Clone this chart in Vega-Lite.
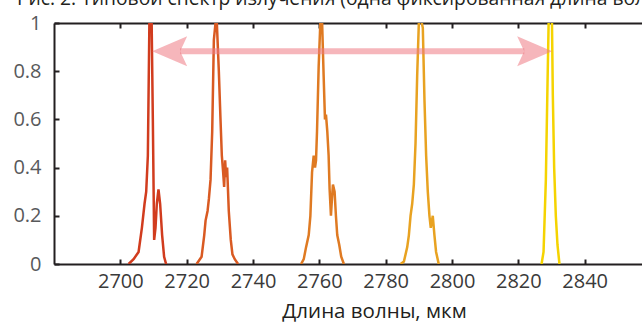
{
  "$schema": "https://vega.github.io/schema/vega-lite/v6.json",
  "width": 597,
  "height": 241,
  "autosize": {"type": "none"},
  "padding": {"left": 54, "top": 23, "right": 0, "bottom": 62},
  "title": {
    "text": "Рис. 2. Типовой спектр излучения (одна фиксированная длина волны)",
    "anchor": "start",
    "dx": 4,
    "offset": -11,
    "baseline": "alphabetic",
    "fontSize": 19.3,
    "font": "Open Sans",
    "fontWeight": "normal",
    "color": "#231f20"
  },
  "config": {
    "view": {"stroke": null},
    "font": "Open Sans",
    "axis": {
      "domainColor": "#231f20",
      "domainWidth": 2,
      "tickColor": "#231f20",
      "tickWidth": 2,
      "tickSize": -5,
      "grid": false,
      "labelFont": "Open Sans",
      "labelFontSize": 20,
      "titleFont": "Open Sans",
      "titleFontSize": 20.5,
      "titleFontWeight": "normal",
      "zindex": 1
    }
  },
  "resolve": {"axis": {"x": "independent"}},
  "layer": [
    {
      "data": {"values": [
        {"s": "a", "wl": 2702.5, "v": 0}, {"s": "a", "wl": 2704.0, "v": 0.02}, {"s": "a", "wl": 2705.5, "v": 0.05},
        {"s": "a", "wl": 2706.5, "v": 0.15}, {"s": "a", "wl": 2707.3, "v": 0.25}, {"s": "a", "wl": 2707.8, "v": 0.3},
        {"s": "a", "wl": 2708.3, "v": 0.45}, {"s": "a", "wl": 2708.8, "v": 1.05}, {"s": "a", "wl": 2709.4, "v": 1.05},
        {"s": "a", "wl": 2709.8, "v": 0.6}, {"s": "a", "wl": 2710.2, "v": 0.1}, {"s": "a", "wl": 2710.6, "v": 0.15},
        {"s": "a", "wl": 2711.0, "v": 0.25}, {"s": "a", "wl": 2711.5, "v": 0.31}, {"s": "a", "wl": 2712.0, "v": 0.25},
        {"s": "a", "wl": 2712.6, "v": 0.12}, {"s": "a", "wl": 2713.2, "v": 0.03}, {"s": "a", "wl": 2713.8, "v": 0},
        {"s": "b", "wl": 2723.0, "v": 0}, {"s": "b", "wl": 2724.5, "v": 0.03}, {"s": "b", "wl": 2725.3, "v": 0.12},
        {"s": "b", "wl": 2725.7, "v": 0.18}, {"s": "b", "wl": 2726.3, "v": 0.22}, {"s": "b", "wl": 2726.7, "v": 0.27},
        {"s": "b", "wl": 2727.2, "v": 0.35}, {"s": "b", "wl": 2727.7, "v": 0.55}, {"s": "b", "wl": 2728.2, "v": 0.93},
        {"s": "b", "wl": 2728.7, "v": 1.0}, {"s": "b", "wl": 2729.1, "v": 1.0}, {"s": "b", "wl": 2729.7, "v": 0.8},
        {"s": "b", "wl": 2730.2, "v": 0.6}, {"s": "b", "wl": 2730.6, "v": 0.45}, {"s": "b", "wl": 2731.0, "v": 0.38},
        {"s": "b", "wl": 2731.3, "v": 0.32}, {"s": "b", "wl": 2731.6, "v": 0.43}, {"s": "b", "wl": 2731.9, "v": 0.36},
        {"s": "b", "wl": 2732.2, "v": 0.4}, {"s": "b", "wl": 2732.7, "v": 0.22}, {"s": "b", "wl": 2733.3, "v": 0.1},
        {"s": "b", "wl": 2733.8, "v": 0.04}, {"s": "b", "wl": 2734.5, "v": 0.02}, {"s": "b", "wl": 2735.5, "v": 0},
        {"s": "c", "wl": 2754.5, "v": 0}, {"s": "c", "wl": 2755.3, "v": 0.02}, {"s": "c", "wl": 2756.0, "v": 0.07},
        {"s": "c", "wl": 2756.8, "v": 0.12}, {"s": "c", "wl": 2757.3, "v": 0.2}, {"s": "c", "wl": 2757.8, "v": 0.38},
        {"s": "c", "wl": 2758.3, "v": 0.45}, {"s": "c", "wl": 2758.7, "v": 0.4}, {"s": "c", "wl": 2759.0, "v": 0.43},
        {"s": "c", "wl": 2759.3, "v": 0.55}, {"s": "c", "wl": 2759.8, "v": 0.82}, {"s": "c", "wl": 2760.3, "v": 1.0},
        {"s": "c", "wl": 2760.8, "v": 1.02}, {"s": "c", "wl": 2761.3, "v": 0.78}, {"s": "c", "wl": 2761.7, "v": 0.6},
        {"s": "c", "wl": 2762.0, "v": 0.62}, {"s": "c", "wl": 2762.4, "v": 0.55}, {"s": "c", "wl": 2762.8, "v": 0.45},
        {"s": "c", "wl": 2763.1, "v": 0.31}, {"s": "c", "wl": 2763.5, "v": 0.2}, {"s": "c", "wl": 2763.8, "v": 0.27},
        {"s": "c", "wl": 2764.1, "v": 0.33}, {"s": "c", "wl": 2764.6, "v": 0.3}, {"s": "c", "wl": 2765.0, "v": 0.2},
        {"s": "c", "wl": 2765.4, "v": 0.12}, {"s": "c", "wl": 2766.0, "v": 0.08}, {"s": "c", "wl": 2766.6, "v": 0.03},
        {"s": "c", "wl": 2767.4, "v": 0},
        {"s": "d", "wl": 2784.5, "v": 0}, {"s": "d", "wl": 2785.5, "v": 0.01}, {"s": "d", "wl": 2786.5, "v": 0.07},
        {"s": "d", "wl": 2787.0, "v": 0.12}, {"s": "d", "wl": 2787.5, "v": 0.2}, {"s": "d", "wl": 2788.0, "v": 0.25},
        {"s": "d", "wl": 2788.5, "v": 0.33}, {"s": "d", "wl": 2789.0, "v": 0.5}, {"s": "d", "wl": 2789.5, "v": 0.78},
        {"s": "d", "wl": 2790.0, "v": 1.0}, {"s": "d", "wl": 2790.6, "v": 1.02}, {"s": "d", "wl": 2791.2, "v": 0.98},
        {"s": "d", "wl": 2791.7, "v": 0.68}, {"s": "d", "wl": 2792.2, "v": 0.45}, {"s": "d", "wl": 2792.7, "v": 0.3},
        {"s": "d", "wl": 2793.2, "v": 0.2}, {"s": "d", "wl": 2793.6, "v": 0.15}, {"s": "d", "wl": 2794.2, "v": 0.2},
        {"s": "d", "wl": 2794.7, "v": 0.12}, {"s": "d", "wl": 2795.2, "v": 0.05}, {"s": "d", "wl": 2796.0, "v": 0},
        {"s": "e", "wl": 2827.0, "v": 0}, {"s": "e", "wl": 2827.6, "v": 0.05}, {"s": "e", "wl": 2828.3, "v": 0.35},
        {"s": "e", "wl": 2828.8, "v": 0.75}, {"s": "e", "wl": 2829.2, "v": 1.05}, {"s": "e", "wl": 2830.1, "v": 1.05},
        {"s": "e", "wl": 2830.4, "v": 0.7}, {"s": "e", "wl": 2830.8, "v": 0.4}, {"s": "e", "wl": 2831.3, "v": 0.2},
        {"s": "e", "wl": 2831.8, "v": 0.08}, {"s": "e", "wl": 2832.4, "v": 0}
      ]},
      "mark": {"type": "line", "strokeWidth": 2.5, "clip": true},
      "encoding": {
        "x": {
          "field": "wl", "type": "quantitative",
          "scale": {"domain": [2680, 2860], "nice": false, "zero": false},
          "axis": {
            "values": [2700, 2720, 2740, 2760, 2780, 2800, 2820, 2840],
            "format": "d",
            "labelColor": "#3a3a3a",
            "labelPadding": 12,
            "title": "Длина волны, мкм",
            "titleColor": "#231f20",
            "titleX": 320,
            "titleY": 53,
            "titleBaseline": "alphabetic"
          }
        },
        "y": {
          "field": "v", "type": "quantitative",
          "scale": {"domain": [0, 1], "nice": false},
          "axis": {
            "values": [0, 0.2, 0.4, 0.6, 0.8, 1],
            "format": "~g",
            "labelColor": "#58595b",
            "labelPadding": 18,
            "title": null
          }
        },
        "color": {
          "field": "s", "type": "nominal",
          "scale": {"domain": ["a", "b", "c", "d", "e"], "range": ["#d13c1e", "#d95a22", "#df7a22", "#e8a221", "#f5d300"]},
          "legend": null
        }
      }
    },
    {
      "data": {"values": [{"a": 2718.0, "b": 2821.8, "y": 0.883}]},
      "mark": {"type": "rule", "strokeWidth": 6, "color": "#ef7a84", "opacity": 0.55, "strokeCap": "butt"},
      "encoding": {
        "x": {"field": "a", "type": "quantitative", "axis": {"orient": "top", "values": [2700, 2720, 2740, 2760, 2780, 2800, 2820, 2840], "labels": false, "title": null}},
        "x2": {"field": "b"},
        "y": {"field": "y", "type": "quantitative"}
      }
    },
    {
      "data": {"values": [{"x": 2709.6, "y": 0.883, "dir": "left"}, {"x": 2830.2, "y": 0.883, "dir": "right"}]},
      "mark": {"type": "point", "filled": true, "color": "#ef7a84", "opacity": 0.55, "size": 1225, "strokeWidth": 0},
      "encoding": {
        "x": {"field": "x", "type": "quantitative", "axis": null},
        "y": {"field": "y", "type": "quantitative"},
        "shape": {
          "field": "dir", "type": "nominal",
          "scale": {"domain": ["left", "right"], "range": ["M0 0 L2 -0.86 L1.6 0 L2 0.86 Z", "M0 0 L-2 -0.86 L-1.6 0 L-2 0.86 Z"]},
          "legend": null
        }
      }
    }
  ]
}
